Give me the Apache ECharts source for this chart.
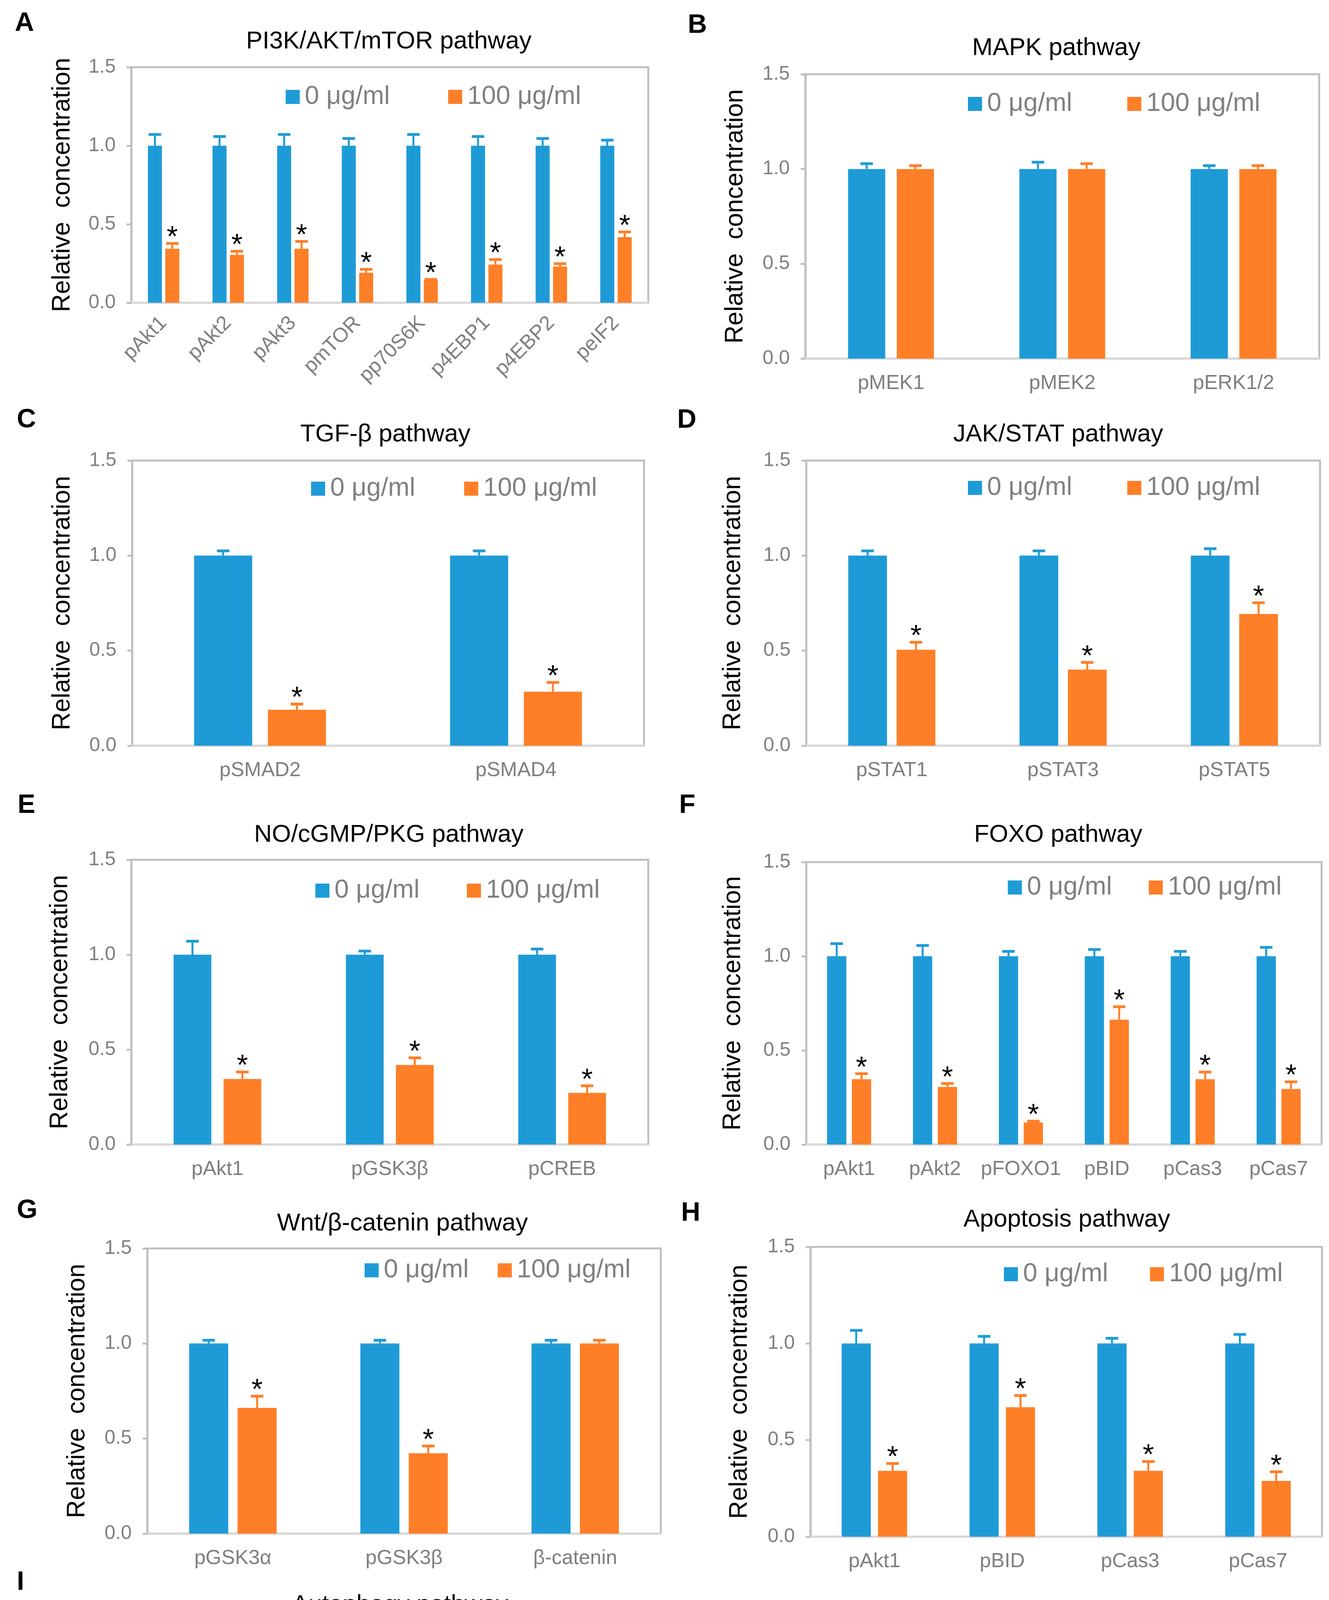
<!DOCTYPE html>
<html><head><meta charset="utf-8">
<script src="https://cdn.jsdelivr.net/npm/echarts@6/dist/echarts.min.js"></script>
<style>html,body{margin:0;padding:0;background:#fff}#c{width:3401px;height:5037px}</style>
</head><body><div id="c"></div>
<script>
// ---------- DATA ----------
const seriesNames = ['0 μg/ml', '100 μg/ml'];
const yTicks = [0, 0.5, 1.0, 1.5];
const titles = ['PI3K/AKT/mTOR pathway','MAPK pathway','TGF-β pathway','JAK/STAT pathway','NO/cGMP/PKG pathway','FOXO pathway','Wnt/β-catenin pathway','Apoptosis pathway','Autophagy pathway'];
const letters = ['A','B','C','D','E','F','G','H','I'];

const catsA = ['pAkt1','pAkt2','pAkt3','pmTOR','pp70S6K','p4EBP1','p4EBP2','peIF2'];
const ctrlA = [1,1,1,1,1,1,1,1];
const ctrlErrA = [0.073,0.06,0.073,0.047,0.073,0.06,0.047,0.037];
const treatA = [0.344,0.305,0.344,0.19,0.144,0.243,0.23,0.418];
const treatErrA = [0.035,0.024,0.048,0.024,0.006,0.033,0.02,0.034];
const sigA = [1,1,1,1,1,1,1,1];

const catsB = ['pMEK1','pMEK2','pERK1/2'];
const ctrlB = [1,1,1];
const ctrlErrB = [0.029,0.037,0.019];
const treatB = [1,1,1];
const treatErrB = [0.019,0.029,0.019];
const sigB = [0,0,0];

const catsC = ['pSMAD2','pSMAD4'];
const ctrlC = [1,1];
const ctrlErrC = [0.026,0.026];
const treatC = [0.189,0.284];
const treatErrC = [0.031,0.05];
const sigC = [1,1];

const catsD = ['pSTAT1','pSTAT3','pSTAT5'];
const ctrlD = [1,1,1];
const ctrlErrD = [0.026,0.026,0.037];
const treatD = [0.505,0.4,0.693];
const treatErrD = [0.04,0.039,0.06];
const sigD = [1,1,1];

const catsE = ['pAkt1','pGSK3β','pCREB'];
const ctrlE = [1,1,1];
const ctrlErrE = [0.072,0.02,0.031];
const treatE = [0.345,0.419,0.272];
const treatErrE = [0.038,0.039,0.038];
const sigE = [1,1,1];

const catsF = ['pAkt1','pAkt2','pFOXO1','pBID','pCas3','pCas7'];
const ctrlF = [1,1,1,1,1,1];
const ctrlErrF = [0.068,0.058,0.027,0.037,0.027,0.048];
const treatF = [0.347,0.306,0.117,0.663,0.347,0.295];
const treatErrF = [0.03,0.019,0.008,0.07,0.039,0.039];
const sigF = [1,1,1,1,1,1];

const catsG = ['pGSK3α','pGSK3β','β-catenin'];
const ctrlG = [1,1,1];
const ctrlErrG = [0.018,0.018,0.018];
const treatG = [0.661,0.423,1.0];
const treatErrG = [0.063,0.039,0.018];
const sigG = [1,1,0];

const catsH = ['pAkt1','pBID','pCas3','pCas7'];
const ctrlH = [1,1,1,1];
const ctrlErrH = [0.069,0.038,0.028,0.048];
const treatH = [0.341,0.67,0.341,0.289];
const treatErrH = [0.039,0.062,0.049,0.048];
const sigH = [1,1,1,1];

const catsI = ['pAkt1','pmTOR','pBECN1','LC3A/B'];
const ctrlI = [1,1,1,1];
const ctrlErrI = [0.074,0.055,0.033,0.045];
const treatI = [0.354,0.2,0.403,0.782];
const treatErrI = [0.025,0.028,0.039,0.068];
const sigI = [1,1,1,1];

// ---------- LAYOUT / STYLE ----------
const BLUE = '#1E9BD7', ORANGE = '#FE7F27';
const FONT = '"Liberation Sans", Arial, sans-serif';
const panelData = [
  [catsA, ctrlA, ctrlErrA, treatA, treatErrA, sigA],
  [catsB, ctrlB, ctrlErrB, treatB, treatErrB, sigB],
  [catsC, ctrlC, ctrlErrC, treatC, treatErrC, sigC],
  [catsD, ctrlD, ctrlErrD, treatD, treatErrD, sigD],
  [catsE, ctrlE, ctrlErrE, treatE, treatErrE, sigE],
  [catsF, ctrlF, ctrlErrF, treatF, treatErrF, sigF],
  [catsG, ctrlG, ctrlErrG, treatG, treatErrG, sigG],
  [catsH, ctrlH, ctrlErrH, treatH, treatErrH, sigH],
  [catsI, ctrlI, ctrlErrI, treatI, treatErrI, sigI]
];
const layout = [
 {l:336,t:172,r:1659,b:775, bw:0.217,gap:0.24, lg:[726,244,149], letter:[38,60], title:[995,107], nameGap:144, rot:45},
 {l:2061,t:190,r:3376,b:918, bw:0.217,gap:0.31, lg:[2472,262,141], letter:[1760,65], title:[2703,124], nameGap:147},
 {l:338,t:1179,r:1648,b:1909, bw:0.227,gap:0.27, lg:[791,1247,125], letter:[43,1075], title:[986,1113], nameGap:146},
 {l:2063,t:1179,r:3378,b:1909, bw:0.226,gap:0.25, lg:[2472,1245,141], letter:[1733,1076], title:[2708,1113], nameGap:155},
 {l:336,t:2201,r:1659,b:2930, bw:0.219,gap:0.325, lg:[802,2276,121], letter:[45,2062], title:[995,2138], nameGap:150},
 {l:2063,t:2207,r:3382,b:2930, bw:0.224,gap:0.29, lg:[2574,2268,94], letter:[1738,2062], title:[2708,2138], nameGap:155},
 {l:377,t:3196,r:1691,b:3926, bw:0.228,gap:0.24, lg:[928,3248,74], letter:[43,3099], title:[1030,3133], nameGap:147},
 {l:2074,t:3192,r:3383,b:3934, bw:0.228,gap:0.247, lg:[2564,3258,107], letter:[1743,3106], title:[2730,3123], nameGap:149},
 {l:372,t:4175,r:1691,b:4921, bw:0.225,gap:0.26, lg:[848,4243,108], letter:[43,4051], title:[1024,4110], nameGap:144}
];

// ---------- BUILD ----------
const grid = [], xAxis = [], yAxis = [], series = [], legend = [], graphic = [];

layout.forEach((L, i) => {
  const [cats, ctrl, ctrlErr, treat, treatErr, sig] = panelData[i];
  grid.push({left: L.l, top: L.t, width: L.r - L.l, height: L.b - L.t, show: true,
    borderColor: '#BFBFBF', borderWidth: 5, backgroundColor: 'transparent', containLabel: false});
  xAxis.push({type: 'category', gridIndex: i, data: cats,
    axisLine: {show: true, lineStyle: {color: '#D9D9D9', width: 6}},
    axisTick: {show: false},
    axisLabel: {interval: 0, rotate: L.rot || 0, margin: L.rot ? 44 : 38, fontSize: 52, color: '#7F7F7F', fontFamily: FONT},
    splitLine: {show: false}});
  yAxis.push({type: 'value', gridIndex: i, min: yTicks[0], max: yTicks[yTicks.length - 1], interval: 0.5,
    name: 'Relative  concentration', nameLocation: 'middle', nameGap: L.nameGap, nameRotate: 90,
    nameTextStyle: {fontSize: 64, color: '#000', fontFamily: FONT},
    axisLine: {show: true, lineStyle: {color: '#BFBFBF', width: 5}},
    axisTick: {show: true, length: 12, lineStyle: {color: '#BFBFBF', width: 5}},
    axisLabel: {fontSize: 50, color: '#7F7F7F', fontFamily: FONT, margin: 40, formatter: v => v.toFixed(1)},
    splitLine: {show: false}});
  const bwPct = (L.bw * 100).toFixed(2) + '%';
  const gapPct = (L.gap * 100).toFixed(1) + '%';
  series.push({type: 'bar', name: seriesNames[0], xAxisIndex: i, yAxisIndex: i, data: ctrl,
    barWidth: bwPct, barGap: gapPct, itemStyle: {color: BLUE}, animation: false});
  series.push({type: 'bar', name: seriesNames[1], xAxisIndex: i, yAxisIndex: i, data: treat,
    barWidth: bwPct, barGap: gapPct, itemStyle: {color: ORANGE}, animation: false});
  const errData = [];
  cats.forEach((c, k) => {
    errData.push([k, ctrl[k], ctrl[k] + ctrlErr[k], 0, 0]);
    errData.push([k, treat[k], treat[k] + treatErr[k], 1, sig[k]]);
  });
  const bw = L.bw, gap = L.gap;
  series.push({type: 'custom', name: 'err' + i, xAxisIndex: i, yAxisIndex: i, data: errData,
    encode: {x: 0, y: 2}, clip: false, z: 5, animation: false, silent: true,
    renderItem: function (params, api) {
      const cat = api.value(0), val = api.value(1), top = api.value(2), side = api.value(3), s = api.value(4);
      const band = api.size([1, 0])[0];
      const w = band * bw, g = w * gap;
      const off = (w + g) / 2 * (side ? 1 : -1);
      const pb = api.coord([cat, val]), pt = api.coord([cat, top]);
      const x = pb[0] + off;
      const col = side ? ORANGE : BLUE;
      const children = [
        {type: 'line', shape: {x1: x, y1: pb[1], x2: x, y2: pt[1]}, style: {stroke: col, lineWidth: 5}},
        {type: 'rect', shape: {x: x - 16, y: pt[1] - 3, width: 32, height: 7}, style: {fill: col}}
      ];
      if (s) {
        children.push({type: 'text', x: x, y: pt[1] - 13,
          style: {text: '*', fill: '#000', font: '74px ' + FONT, textAlign: 'center', textVerticalAlign: 'middle'}});
      }
      return {type: 'group', children: children};
    }});
  legend.push({left: L.lg[0], top: L.lg[1] - 34, orient: 'horizontal', itemWidth: 36, itemHeight: 36,
    itemGap: L.lg[2], icon: 'rect', selectedMode: false, data: seriesNames,
    textStyle: {fontSize: 66, lineHeight: 36, color: '#808080', fontFamily: FONT, padding: [0, 0, 0, 8]}});
  graphic.push({type: 'text', left: L.letter[0], top: L.letter[1] - 34,
    style: {text: letters[i], font: 'bold 68px ' + FONT, fill: '#000'}});
  graphic.push({type: 'text', x: L.title[0], y: L.title[1],
    style: {text: titles[i], font: '63px ' + FONT, fill: '#000', textAlign: 'center', textVerticalAlign: 'middle'}});
});

const chart = echarts.init(document.getElementById('c'), null, {renderer: 'canvas'});
chart.setOption({backgroundColor: '#fff', animation: false, grid, xAxis, yAxis, series, legend, graphic});
</script></body></html>
